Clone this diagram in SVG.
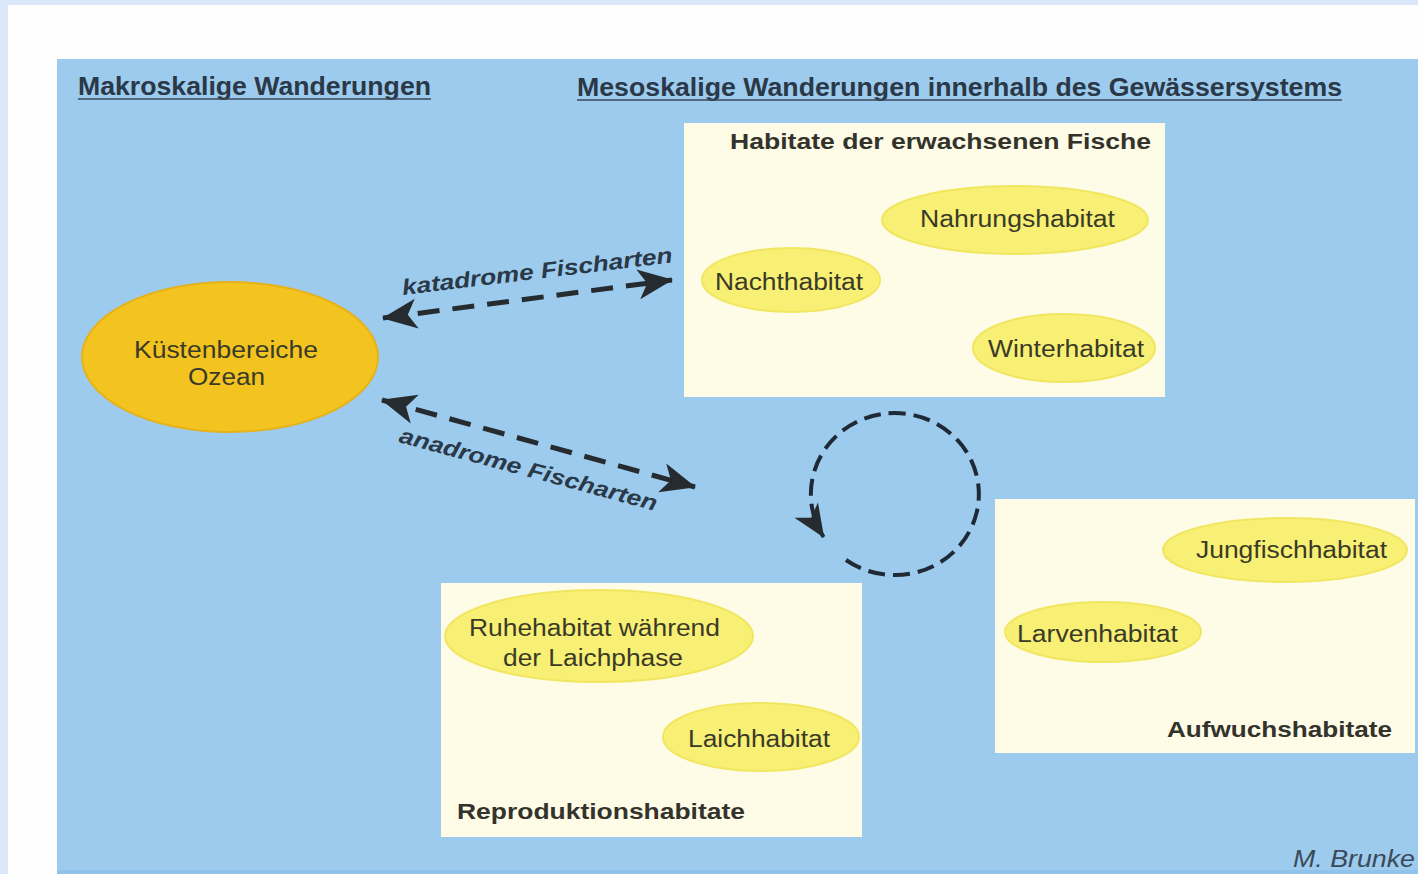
<svg xmlns="http://www.w3.org/2000/svg" width="1418" height="874" viewBox="0 0 1418 874">
<style>
.hd{font-family:"Liberation Sans",Arial,sans-serif;font-weight:bold;font-size:26px;fill:#2a3848}
.bt{font-family:"Liberation Sans",Arial,sans-serif;font-weight:bold;font-size:22px;fill:#33332c}
.et{font-family:"Liberation Sans",Arial,sans-serif;font-size:23px;fill:#3a3a28}
.al{font-family:"Liberation Sans",Arial,sans-serif;font-weight:bold;font-style:italic;font-size:22px;fill:#2a3848}
.box{fill:#fefbe6}
.ell{fill:#f8f074;stroke:#f1e660;stroke-width:2}
.con{fill:none;stroke:#262b30;stroke-width:5;stroke-dasharray:22 13}
.circ{fill:none;stroke:#1f2a36;stroke-width:4;stroke-dasharray:17 8}
</style>
<defs>
<marker id="ah" viewBox="-36 -17 38 34" refX="0" refY="0" markerWidth="38" markerHeight="34" markerUnits="userSpaceOnUse" orient="auto-start-reverse">
<path d="M1,0 L-34,-15 L-25,0 L-34,15 Z" fill="#262b30"/>
</marker>
<marker id="ah2" viewBox="-34 -16 36 32" refX="0" refY="0" markerWidth="36" markerHeight="32" markerUnits="userSpaceOnUse" orient="auto">
<path d="M1,0 L-32,-14 L-23,0 L-32,14 Z" fill="#262b30"/>
</marker>
</defs>
<rect x="0" y="0" width="1418" height="874" fill="#dce8fa"/>
<rect x="8" y="5" width="1410" height="869" fill="#fefefe"/>
<rect x="57" y="59" width="1361" height="811" fill="#9ccbed"/>
<rect x="57" y="870" width="1361" height="4" fill="#8fc3ea"/>

<g id="heading-makro">
<text class="hd" x="78" y="95" textLength="353" lengthAdjust="spacingAndGlyphs">Makroskalige Wanderungen</text>
<line x1="78" y1="99" x2="431" y2="99" stroke="#3a4a5a" stroke-width="1.5"/>
</g>
<g id="heading-meso">
<text class="hd" x="577" y="96" textLength="765" lengthAdjust="spacingAndGlyphs">Mesoskalige Wanderungen innerhalb des Gewässersystems</text>
<line x1="577" y1="100" x2="1342" y2="100" stroke="#3a4a5a" stroke-width="1.5"/>
</g>

<g id="box-adult">
<rect class="box" x="684" y="123" width="481" height="274"/>
<text class="bt" x="730" y="149" textLength="421" lengthAdjust="spacingAndGlyphs">Habitate der erwachsenen Fische</text>
</g>
<g id="nahrungshabitat">
<ellipse class="ell" cx="1015" cy="220" rx="133" ry="34"/>
<text class="et" x="920" y="227" textLength="195" lengthAdjust="spacingAndGlyphs">Nahrungshabitat</text>
</g>
<g id="nachthabitat">
<ellipse class="ell" cx="791" cy="280" rx="89" ry="32"/>
<text class="et" x="715" y="290" textLength="148" lengthAdjust="spacingAndGlyphs">Nachthabitat</text>
</g>
<g id="winterhabitat">
<ellipse class="ell" cx="1064" cy="348" rx="91" ry="34"/>
<text class="et" x="988" y="357" textLength="156" lengthAdjust="spacingAndGlyphs">Winterhabitat</text>
</g>

<g id="box-repro">
<rect class="box" x="441" y="583" width="421" height="254"/>
<text class="bt" x="457" y="819" textLength="288" lengthAdjust="spacingAndGlyphs">Reproduktionshabitate</text>
</g>
<g id="ruhehabitat">
<ellipse class="ell" cx="599" cy="636" rx="154" ry="46"/>
<text class="et" x="469" y="636" textLength="251" lengthAdjust="spacingAndGlyphs">Ruhehabitat während</text>
<text class="et" x="503" y="666" textLength="180" lengthAdjust="spacingAndGlyphs">der Laichphase</text>
</g>
<g id="laichhabitat">
<ellipse class="ell" cx="761" cy="737" rx="98" ry="34"/>
<text class="et" x="688" y="747" textLength="142" lengthAdjust="spacingAndGlyphs">Laichhabitat</text>
</g>

<g id="box-aufwuchs">
<rect class="box" x="995" y="499" width="420" height="254"/>
<text class="bt" x="1167" y="737" textLength="225" lengthAdjust="spacingAndGlyphs">Aufwuchshabitate</text>
</g>
<g id="jungfischhabitat">
<ellipse class="ell" cx="1285" cy="550" rx="122" ry="32"/>
<text class="et" x="1196" y="558" textLength="191" lengthAdjust="spacingAndGlyphs">Jungfischhabitat</text>
</g>
<g id="larvenhabitat">
<ellipse class="ell" cx="1103" cy="632" rx="98" ry="30"/>
<text class="et" x="1017" y="642" textLength="161" lengthAdjust="spacingAndGlyphs">Larvenhabitat</text>
</g>

<g id="kuestenbereiche">
<ellipse cx="230" cy="357" rx="148" ry="75" fill="#f3c41f" stroke="#e6b21a" stroke-width="2"/>
<text class="et" x="134" y="358" textLength="184" lengthAdjust="spacingAndGlyphs">Küstenbereiche</text>
<text class="et" x="188" y="385" textLength="77" lengthAdjust="spacingAndGlyphs">Ozean</text>
</g>

<g id="connectors">
<line class="con" x1="383" y1="318" x2="672" y2="280" marker-start="url(#ah)" marker-end="url(#ah)"/>
<line class="con" x1="382" y1="400" x2="695" y2="487" marker-start="url(#ah)" marker-end="url(#ah)"/>
<path class="circ" d="M 846 560 A 84 81 0 1 0 823.6 537" marker-end="url(#ah2)"/>
<text class="al" transform="translate(403,295) rotate(-6.9)" x="0" y="0" textLength="272" lengthAdjust="spacingAndGlyphs">katadrome Fischarten</text>
<text class="al" transform="translate(398,442) rotate(15)" x="0" y="0" textLength="266" lengthAdjust="spacingAndGlyphs">anadrome Fischarten</text>
</g>

<text x="1293" y="867" textLength="122" lengthAdjust="spacingAndGlyphs" font-family="Liberation Sans, Arial, sans-serif" font-style="italic" font-size="23" fill="#3a4a5a">M. Brunke</text>
</svg>
